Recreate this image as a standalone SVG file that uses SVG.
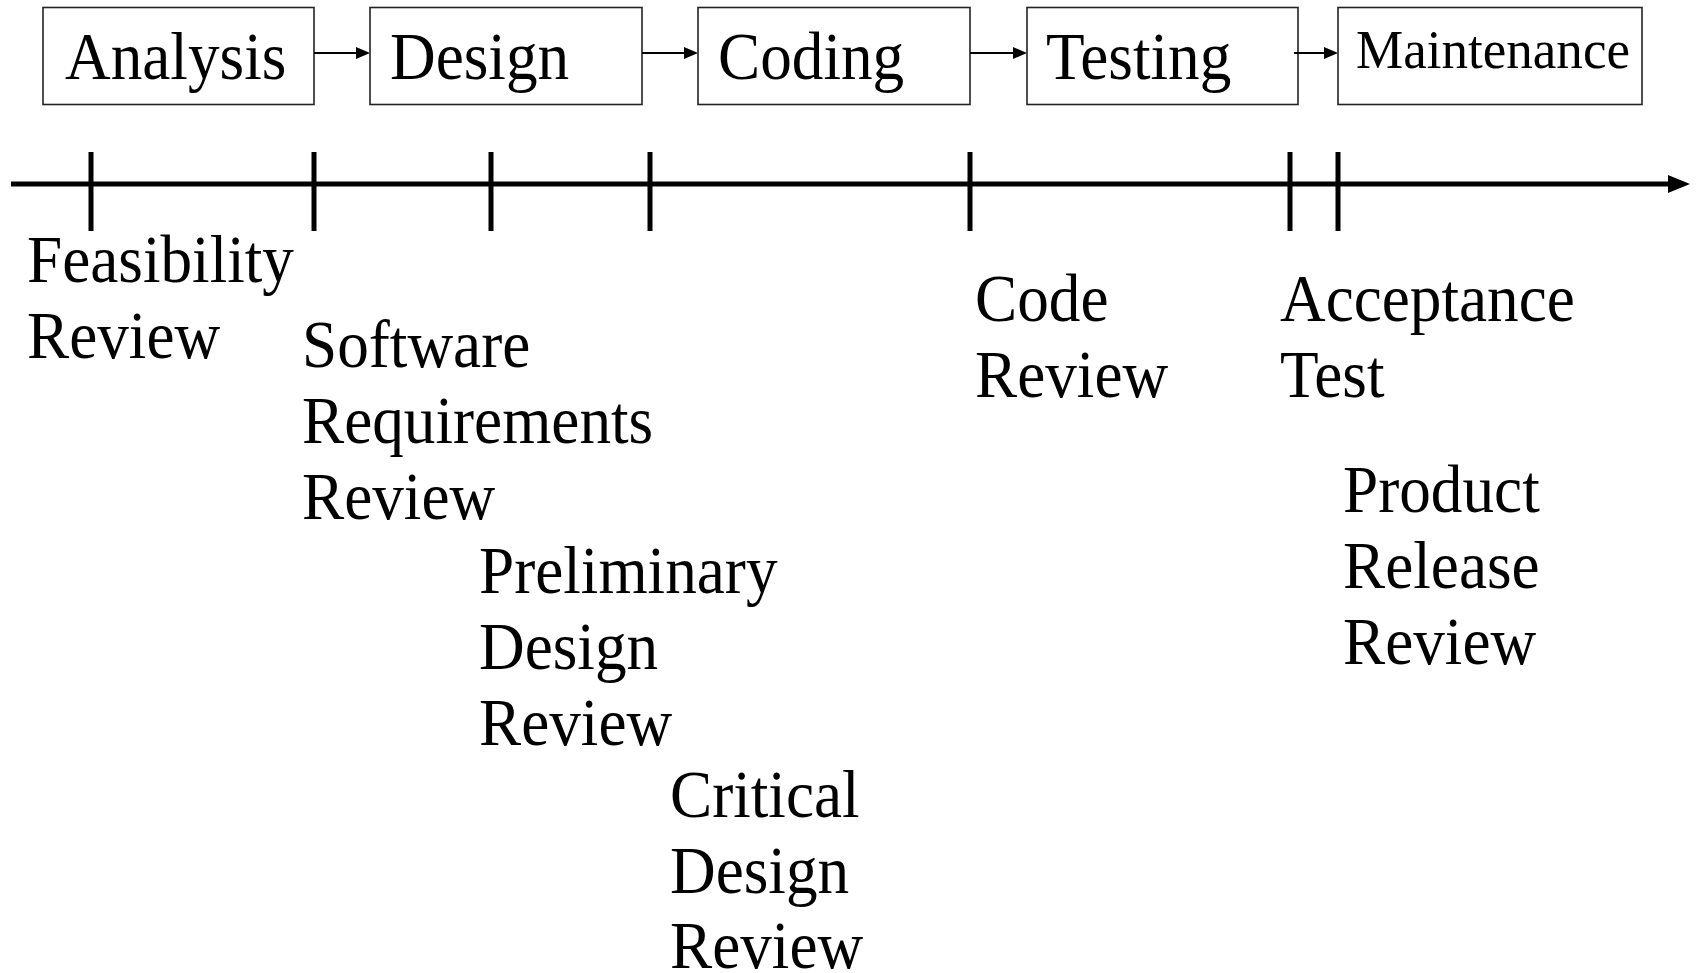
<svg xmlns="http://www.w3.org/2000/svg" width="1698" height="973" viewBox="0 0 1698 973">
  <style>
    .box { fill: #fff; stroke: #222; stroke-width: 1.6; }
    .lbl { font-family: "Liberation Serif", "Times New Roman", serif; font-size: 68px; fill: #000; }
    .flow { stroke: #000; stroke-width: 2.2; fill: none; }
    .head { fill: #000; }
    .axis { stroke: #000; stroke-width: 5; fill: none; }
    .tick { stroke: #000; stroke-width: 5; }
  </style>
  <defs>
    <path id="arrowhead" class="head" d="M0,0 L-14,-6 L-14,6 z"/>
  </defs>
  <rect width="1698" height="973" fill="#fff"/>

  <!-- phase boxes -->
  <g id="analysis">
    <rect class="box" x="43" y="7.5" width="271" height="97"/>
    <text class="lbl" transform="translate(65 79) scale(0.93 1)">Analysis</text>
  </g>
  <g id="design">
    <rect class="box" x="370" y="7.5" width="272" height="97"/>
    <text class="lbl" transform="translate(390 79) scale(0.93 1)">Design</text>
  </g>
  <g id="coding">
    <rect class="box" x="698" y="7.5" width="272" height="97"/>
    <text class="lbl" transform="translate(718 79) scale(0.93 1)">Coding</text>
  </g>
  <g id="testing">
    <rect class="box" x="1027" y="7.5" width="271" height="97"/>
    <text class="lbl" transform="translate(1046 79) scale(0.93 1)">Testing</text>
  </g>
  <g id="maintenance">
    <rect class="box" x="1338" y="7.5" width="304" height="97"/>
    <text class="lbl" style="font-size:54px" x="1356" y="68" textLength="274" lengthAdjust="spacingAndGlyphs">Maintenance</text>
  </g>

  <!-- phase-to-phase arrows -->
  <g id="connectors">
    <line class="flow" x1="314" y1="53" x2="360" y2="53"/>
    <use href="#arrowhead" x="370" y="53"/>
    <line class="flow" x1="642" y1="53" x2="688" y2="53"/>
    <use href="#arrowhead" x="698" y="53"/>
    <line class="flow" x1="970" y1="53" x2="1017" y2="53"/>
    <use href="#arrowhead" x="1027" y="53"/>
    <line class="flow" x1="1294" y1="53" x2="1328" y2="53"/>
    <use href="#arrowhead" x="1338" y="53"/>
  </g>

  <!-- time axis with review milestones -->
  <g id="timeline">
    <line class="axis" x1="11" y1="184" x2="1672" y2="184"/>
    <path d="M1690,184 L1668,175 L1668,193 z" fill="#000"/>
    <line class="tick" x1="91" y1="152" x2="91" y2="231"/>
    <line class="tick" x1="314" y1="152" x2="314" y2="231"/>
    <line class="tick" x1="491" y1="152" x2="491" y2="231"/>
    <line class="tick" x1="650" y1="152" x2="650" y2="231"/>
    <line class="tick" x1="970" y1="152" x2="970" y2="231"/>
    <line class="tick" x1="1290" y1="152" x2="1290" y2="231"/>
    <line class="tick" x1="1338" y1="152" x2="1338" y2="231"/>
  </g>

  <!-- milestone labels -->
  <g id="feasibility-review">
    <text class="lbl" transform="translate(27 282) scale(0.93 1)"><tspan x="0" y="0">Feasibility</tspan><tspan x="0" y="76">Review</tspan></text>
  </g>
  <g id="srr">
    <text class="lbl" transform="translate(302 367) scale(0.93 1)"><tspan x="0" y="0">Software</tspan><tspan x="0" y="76">Requirements</tspan><tspan x="0" y="152">Review</tspan></text>
  </g>
  <g id="pdr">
    <text class="lbl" transform="translate(479 593) scale(0.93 1)"><tspan x="0" y="0">Preliminary</tspan><tspan x="0" y="76">Design</tspan><tspan x="0" y="152">Review</tspan></text>
  </g>
  <g id="cdr">
    <text class="lbl" transform="translate(670 817) scale(0.93 1)"><tspan x="0" y="0">Critical</tspan><tspan x="0" y="76">Design</tspan><tspan x="0" y="151">Review</tspan></text>
  </g>
  <g id="code-review">
    <text class="lbl" transform="translate(975 321) scale(0.93 1)"><tspan x="0" y="0">Code</tspan><tspan x="0" y="76">Review</tspan></text>
  </g>
  <g id="acceptance-test">
    <text class="lbl" transform="translate(1280 321) scale(0.93 1)"><tspan x="0" y="0">Acceptance</tspan><tspan x="0" y="76">Test</tspan></text>
  </g>
  <g id="prr">
    <text class="lbl" transform="translate(1343 512) scale(0.93 1)"><tspan x="0" y="0">Product</tspan><tspan x="0" y="76">Release</tspan><tspan x="0" y="152">Review</tspan></text>
  </g>
</svg>
